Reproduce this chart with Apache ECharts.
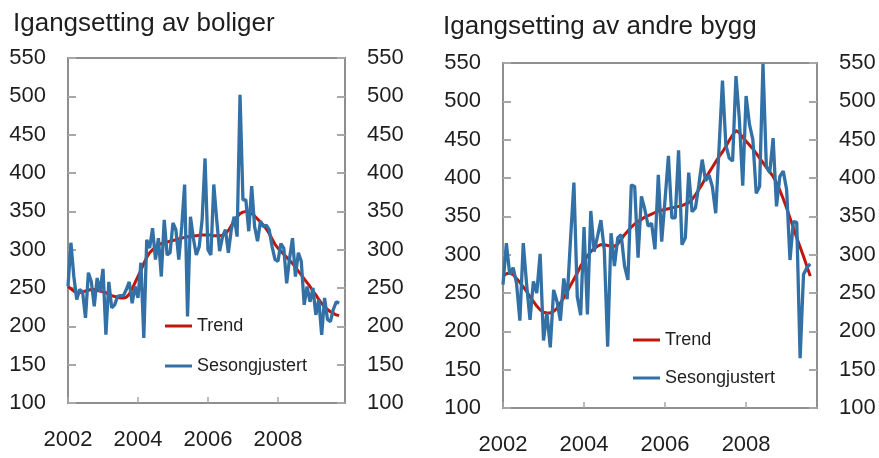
<!DOCTYPE html>
<html lang="no">
  <head>
    <meta charset="UTF-8" />
    <title>Igangsetting</title>
    <style>
      * {
        padding: 0;
        margin: 0;
      }
      html,
      body {
        width: 100%;
        height: 100%;
        background: #fff;
      }
      #main {
        width: 879px;
        height: 458px;
      }
    </style>
  </head>
  <body>
    <div id="main"></div>
    <script src="https://cdn.jsdelivr.net/npm/echarts@6/dist/echarts.min.js"></script>
    <script>
      // månedlige tall fra januar 2002
      var startYear = 2002;
      var yTicks = [100, 550, 50];
      var xTicks = [2002, 2004, 2006, 2008];

      // Igangsetting av boliger
      var boligerSesong = [
        252, 309, 265, 235, 248, 245, 211, 270, 258, 226, 263, 245,
        275, 189, 258, 224, 228, 239, 240, 240, 248, 258, 230, 252,
        237, 283, 185, 313, 302, 328, 287, 315, 265, 339, 293, 296,
        335, 326, 287, 330, 385, 213, 343, 315, 293, 304, 339, 419,
        300, 293, 385, 339, 298, 317, 326, 296, 326, 343, 317, 502,
        365, 365, 324, 383, 330, 311, 337, 330, 332, 326, 304, 287,
        285, 308, 302, 256, 289, 315, 265, 296, 285, 228, 252, 232,
        250, 215, 235, 189, 237, 209, 206, 222, 232, 230
      ];
      var boligerTrend = [
        252, 249, 246, 244, 244, 245, 246, 247, 248, 248, 247, 246,
        245, 244, 242, 240, 239, 238, 237, 237, 238, 242, 249, 257,
        265, 273, 282, 290, 296, 300, 303, 306, 308, 309, 310, 311,
        312, 313, 314, 315, 316, 317, 317, 318, 318, 319, 319, 319,
        319, 319, 318, 318, 318, 319, 321, 325, 331, 338, 343, 347,
        349, 350, 349, 347, 344, 340, 336, 332, 327, 321, 314, 307,
        302, 298, 294, 290, 286, 282, 277, 272, 267, 262, 257, 252,
        246, 241, 235, 230, 225, 222, 219, 217, 215, 214
      ];

      // Igangsetting av andre bygg
      var andreSesong = [
        261, 315, 274, 283, 263, 214, 315, 261, 215, 265, 250, 301,
        188, 224, 179, 254, 239, 214, 269, 242, 320, 394, 245, 221,
        336, 222, 357, 304, 324, 345, 306, 180, 328, 285, 322, 326,
        285, 267, 391, 389, 296, 376, 359, 337, 341, 307, 404, 317,
        372, 429, 348, 348, 436, 313, 322, 407, 356, 361, 391, 424,
        396, 404, 389, 354, 440, 527, 443, 426, 422, 533, 477, 390,
        507, 470, 450, 380, 389, 549, 415, 407, 452, 363, 402, 409,
        385, 293, 343, 342, 165, 274, 283, 288
      ];
      var andreTrend = [
        272, 275, 276, 274, 269, 264, 258, 252, 245, 239, 233, 228,
        225, 224, 224, 226, 230, 237, 244, 252, 260, 268, 276, 285,
        292, 298, 304, 308, 311, 313, 313, 312, 311, 311, 314, 320,
        326, 331, 336, 340, 343, 346, 349, 351, 353, 355, 357, 358,
        359, 360, 361, 362, 363, 364, 366, 368, 372, 378, 385, 392,
        400, 407, 414, 421, 428, 434, 441, 449, 456, 462, 459, 453,
        448, 443, 438, 432, 426, 420, 414, 408, 402, 394, 384, 373,
        361, 348, 335, 322, 310, 298, 285, 272
      ];

      var font = 'Liberation Sans, Arial, sans-serif';
      var textColor = '#1e1e1e';
      var axisColor = '#8f8f8f';
      var tickColor = '#a8a8a8';
      var blue = '#3270a6';
      var red = '#c0170d';

      function monthly(values) {
        return values.map(function (v, i) {
          return [startYear + i / 12, v];
        });
      }

      function yAxis(gridIndex, position) {
        return {
          type: 'value',
          gridIndex: gridIndex,
          position: position,
          min: yTicks[0],
          max: yTicks[1],
          interval: yTicks[2],
          axisLine: { show: true, lineStyle: { color: axisColor, width: 2 } },
          axisTick: {
            show: true,
            inside: true,
            length: 8,
            lineStyle: { color: tickColor, width: 2 }
          },
          splitLine: { show: false },
          axisLabel: {
            margin: 22,
            color: textColor,
            fontSize: 22,
            fontFamily: font
          }
        };
      }

      function xAxis(gridIndex, months) {
        return {
          type: 'value',
          gridIndex: gridIndex,
          min: xTicks[0],
          max: startYear + months / 12,
          interval: xTicks[1] - xTicks[0],
          axisLine: { show: true, lineStyle: { color: axisColor, width: 2 } },
          axisTick: {
            show: true,
            inside: true,
            length: 6,
            lineStyle: { color: tickColor, width: 1.5 }
          },
          splitLine: { show: false },
          axisLabel: {
            margin: 26,
            color: textColor,
            fontSize: 22,
            fontFamily: font,
            showMaxLabel: false,
            formatter: function (v) {
              return xTicks.indexOf(v) >= 0 ? String(v) : '';
            }
          }
        };
      }

      function legend(left, top, gap) {
        return {
          left: left,
          top: top,
          padding: 0,
          orient: 'vertical',
          icon: 'rect',
          itemWidth: 27,
          itemHeight: 3,
          itemGap: gap,
          data: ['Trend', 'Sesongjustert'],
          textStyle: { color: textColor, fontSize: 18, fontFamily: font }
        };
      }

      function line(name, data, color, xi, yi) {
        return {
          name: name,
          type: 'line',
          xAxisIndex: xi,
          yAxisIndex: yi,
          data: monthly(data),
          symbol: 'none',
          lineStyle: { color: color, width: name === 'Trend' ? 3 : 3.3 },
          itemStyle: { color: color },
          z: name === 'Trend' ? 2 : 3
        };
      }

      var myChart = echarts.init(document.getElementById('main'), null, { renderer: 'canvas' });

      var option = {
        animation: false,
        backgroundColor: '#fff',
        title: [
          {
            text: 'Igangsetting av boliger',
            left: 8,
            top: 6,
            textStyle: { color: textColor, fontSize: 26, fontWeight: 'normal', fontFamily: font }
          },
          {
            text: 'Igangsetting av andre bygg',
            left: 438,
            top: 9,
            textStyle: { color: textColor, fontSize: 26, fontWeight: 'normal', fontFamily: font }
          }
        ],
        grid: [
          { left: 68, top: 58, width: 277, height: 345, show: true, borderColor: axisColor, borderWidth: 2 },
          { left: 503, top: 63, width: 314, height: 345, show: true, borderColor: axisColor, borderWidth: 2 }
        ],
        xAxis: [xAxis(0, 95), xAxis(1, 93)],
        yAxis: [yAxis(0, 'left'), yAxis(0, 'right'), yAxis(1, 'left'), yAxis(1, 'right')],
        legend: [legend(165, 317, 22), legend(633, 331, 20)],
        series: [
          line('Trend', boligerTrend, red, 0, 0),
          line('Sesongjustert', boligerSesong, blue, 0, 0),
          line('Trend', andreTrend, red, 1, 2),
          line('Sesongjustert', andreSesong, blue, 1, 2)
        ]
      };

      myChart.setOption(option);
    </script>
  </body>
</html>
